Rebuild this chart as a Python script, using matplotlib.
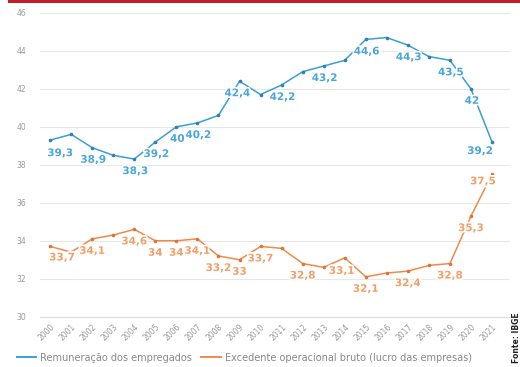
import matplotlib.pyplot as plt
import matplotlib.patheffects as pe
from matplotlib.patches import Rectangle
from matplotlib.lines import Line2D

years = list(range(2000, 2022))

remuneracao = [39.3, 39.6, 38.9, 38.5, 38.3, 39.2, 40.0, 40.2, 40.6, 42.4, 41.7,
               42.2, 42.9, 43.2, 43.5, 44.6, 44.7, 44.3, 43.7, 43.5, 42.0, 39.2]
excedente = [33.7, 33.4, 34.1, 34.3, 34.6, 34.0, 34.0, 34.1, 33.2, 33.0, 33.7,
             33.6, 32.8, 32.6, 33.1, 32.1, 32.3, 32.4, 32.7, 32.8, 35.3, 37.5]

# which points carry a value label
rem_labeled = [2000, 2002, 2004, 2005, 2006, 2007, 2009, 2011, 2013, 2015, 2017, 2019, 2020, 2021]
exc_labeled = [2000, 2002, 2004, 2005, 2006, 2007, 2008, 2009, 2010, 2012, 2014, 2015, 2017, 2019, 2020, 2021]

y_ticks = [30, 32, 34, 36, 38, 40, 42, 44, 46]

BLUE = "#3a9fd5"
BLUE_TXT = "#4aa6da"
ORANGE = "#f08a4b"
ORANGE_TXT = "#f2a06a"

# label offsets in pixels (default is below the point)
rem_offsets = {2000: (10, -13), 2009: (-2, -12), 2021: (-12, -9)}
exc_offsets = {2000: (12, -11), 2014: (-3, -13), 2021: (-9, -7)}


def fmt(v):
    s = f"{v:.1f}".replace(".", ",")
    return s[:-2] if s.endswith(",0") else s


fig = plt.figure(figsize=(5.2, 3.67), dpi=100)
ax = fig.add_axes([0.077, 0.137, 0.904, 0.828])

fig.patches.append(Rectangle((0.015, 0.992), 0.985, 0.008, transform=fig.transFigure,
                             facecolor="#c21f2a", edgecolor="none"))

ax.plot(years, remuneracao, "-", color=BLUE, linewidth=1.1,
        marker="o", markersize=2.6, markerfacecolor="#2f7fb0", markeredgewidth=0)
ax.plot(years, excedente, "-", color=ORANGE, linewidth=1.1,
        marker="o", markersize=2.6, markerfacecolor="#d9773a", markeredgewidth=0)

halo = [pe.withStroke(linewidth=2.5, foreground="white")]

for yr, v in zip(years, remuneracao):
    if yr in rem_labeled:
        ax.annotate(fmt(v), (yr, v), xytext=rem_offsets.get(yr, (1, -12)),
                    textcoords="offset pixels", ha="center", va="center",
                    fontsize=7.5, fontweight="semibold", color=BLUE_TXT, path_effects=halo)

for yr, v in zip(years, excedente):
    if yr in exc_labeled:
        ax.annotate(fmt(v), (yr, v), xytext=exc_offsets.get(yr, (0, -12)),
                    textcoords="offset pixels", ha="center", va="center",
                    fontsize=7.5, fontweight="semibold", color=ORANGE_TXT, path_effects=halo)

ax.set_xlim(1999.52, 2021.86)
ax.set_ylim(30, 46)
ax.set_yticks(y_ticks)
ax.set_yticklabels([str(t) for t in y_ticks])
ax.set_xticks(years)
ax.set_xticklabels([str(y) for y in years], rotation=45, ha="right",
                   rotation_mode="anchor")

ax.grid(axis="y", color="#e8e8e8", linewidth=0.8)
ax.set_axisbelow(True)
for side in ["top", "right", "left"]:
    ax.spines[side].set_visible(False)
ax.spines["bottom"].set_color("#dddddd")
ax.tick_params(axis="both", length=0, labelsize=5.5, colors="#9a9a9a")
ax.tick_params(axis="y", pad=10)
ax.tick_params(axis="x", pad=4)

handles = [Line2D([], [], color=BLUE, linewidth=1.4),
           Line2D([], [], color=ORANGE, linewidth=1.4)]
leg = fig.legend(handles, ["Remuneração dos empregados",
                           "Excedente operacional bruto (lucro das empresas)"],
                 loc="lower left", bbox_to_anchor=(0.015, -0.012), ncol=2,
                 frameon=False, fontsize=7, handlelength=2.0, handletextpad=0.4,
                 columnspacing=1.0)
for t in leg.get_texts():
    t.set_color("#888888")

fig.text(0.993, 0.01, "Fonte: IBGE", rotation=90, ha="center", va="bottom",
         fontsize=5.5, fontweight="bold", color="#222222")

fig.savefig("out.png", dpi=100)
